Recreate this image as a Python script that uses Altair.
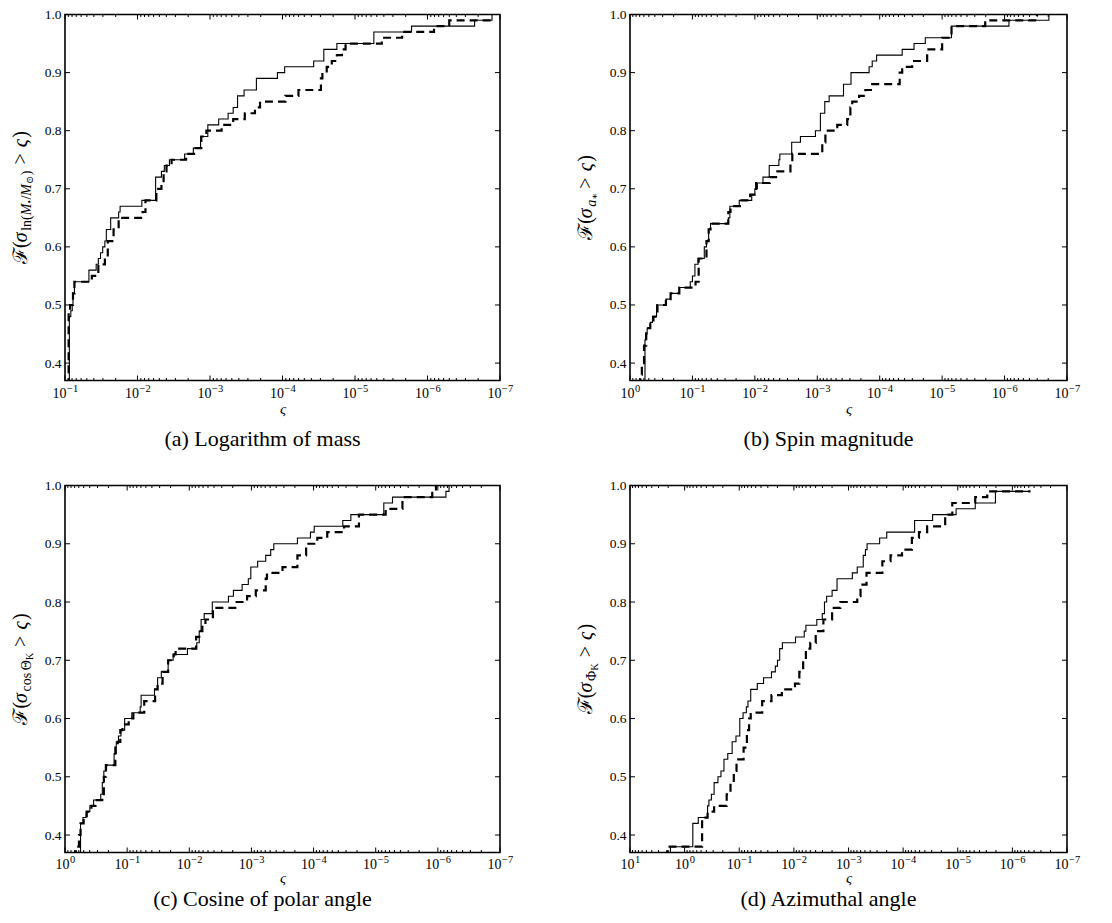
import altair as alt
import pandas as pd

SERIF = "'Liberation Serif', 'DejaVu Serif', serif"

# ---------------- data (log10 of varsigma, CDF level) ----------------
a_solid_lx = [-1.06, -1.06, -1.08, -1.10, -1.11, -1.13, -1.33, -1.43, -1.46, -1.49, -1.52,
              -1.55, -1.57, -1.63, -1.74, -1.76, -2.06, -2.25, -2.33, -2.37, -2.44,
              -2.65, -2.77, -2.87, -2.97, -3.12, -3.25, -3.32, -3.38, -3.47, -3.64,
              -3.93, -4.03, -4.43, -4.57, -4.75, -5.26, -5.78, -6.65, -6.89]
a_solid_F = [0.36, 0.48, 0.49, 0.50, 0.52, 0.54, 0.56, 0.57, 0.58, 0.59, 0.60,
             0.61, 0.63, 0.65, 0.66, 0.67, 0.68, 0.72, 0.73, 0.74, 0.75,
             0.76, 0.77, 0.79, 0.81, 0.82, 0.83, 0.84, 0.86, 0.87, 0.89,
             0.90, 0.91, 0.92, 0.94, 0.95, 0.97, 0.98, 0.99, 1.00]
a_dash_lx = [-1.05, -1.05, -1.07, -1.11, -1.13, -1.37, -1.46, -1.55, -1.59, -1.67,
             -1.74, -2.07, -2.11, -2.26, -2.33, -2.36, -2.40, -2.47, -2.67, -2.78,
             -2.88, -2.95, -3.16, -3.32, -3.48, -3.62, -3.69, -4.04, -4.22, -4.53,
             -4.55, -4.61, -4.68, -4.75, -4.82, -4.87, -5.37, -5.65, -6.09, -6.30, -6.89]
a_dash_F = [0.36, 0.49, 0.50, 0.52, 0.54, 0.55, 0.57, 0.58, 0.61, 0.63,
            0.65, 0.66, 0.68, 0.70, 0.71, 0.73, 0.74, 0.75, 0.76, 0.77,
            0.79, 0.80, 0.81, 0.82, 0.83, 0.84, 0.85, 0.86, 0.87, 0.89,
            0.90, 0.91, 0.92, 0.93, 0.94, 0.95, 0.96, 0.97, 0.98, 0.99, 0.99]

b_solid_lx = [-0.24, -0.24, -0.25, -0.275, -0.325, -0.36, -0.425, -0.575, -0.65, -0.79,
              -0.965, -1.00, -1.04, -1.09, -1.19, -1.225, -1.26, -1.29, -1.575, -1.60,
              -1.75, -1.95, -2.00, -2.04, -2.13, -2.23, -2.385, -2.40, -2.59, -2.73,
              -2.97, -3.05, -3.12, -3.19, -3.42, -3.54, -3.83, -3.88, -3.95, -4.36,
              -4.55, -4.73, -5.15, -6.07, -6.71]
b_solid_F = [0.36, 0.44, 0.45, 0.46, 0.47, 0.48, 0.50, 0.51, 0.52, 0.53,
             0.54, 0.55, 0.57, 0.58, 0.60, 0.61, 0.63, 0.64, 0.65, 0.67,
             0.68, 0.69, 0.70, 0.71, 0.72, 0.74, 0.75, 0.76, 0.78, 0.79,
             0.80, 0.83, 0.85, 0.86, 0.88, 0.90, 0.91, 0.92, 0.93, 0.94,
             0.95, 0.96, 0.98, 0.99, 1.00]
b_dash_lx = [-0.165, -0.165, -0.19, -0.225, -0.26, -0.325, -0.375, -0.44, -0.575, -0.65,
             -0.79, -1.05, -1.10, -1.225, -1.26, -1.29, -1.575, -1.61, -1.76, -1.925,
             -2.02, -2.24, -2.36, -2.57, -2.60, -3.08, -3.13, -3.32, -3.48, -3.53,
             -3.56, -3.67, -3.77, -3.88, -4.32, -4.36, -4.52, -4.76, -5.00, -5.15,
             -5.69, -6.52]
b_dash_F = [0.36, 0.38, 0.40, 0.43, 0.46, 0.47, 0.48, 0.50, 0.51, 0.52,
            0.53, 0.54, 0.58, 0.61, 0.63, 0.64, 0.66, 0.67, 0.68, 0.69,
            0.71, 0.72, 0.73, 0.74, 0.76, 0.78, 0.80, 0.81, 0.82, 0.84,
            0.85, 0.86, 0.87, 0.88, 0.90, 0.91, 0.92, 0.94, 0.96, 0.98,
            0.99, 1.00]

c_solid_lx = [-0.25, -0.25, -0.29, -0.34, -0.40, -0.46, -0.575, -0.60, -0.625, -0.65,
              -0.79, -0.825, -0.86, -0.90, -0.96, -1.075, -1.21, -1.225, -1.44, -1.49,
              -1.55, -1.66, -1.74, -1.97, -2.12, -2.16, -2.19, -2.24, -2.37, -2.63,
              -2.71, -2.85, -2.95, -2.99, -3.10, -3.23, -3.31, -3.36, -3.74, -3.95,
              -4.01, -4.47, -4.60, -5.13, -5.27, -6.13, -6.18]
c_solid_F = [0.36, 0.42, 0.43, 0.44, 0.45, 0.46, 0.47, 0.49, 0.51, 0.52,
             0.54, 0.56, 0.57, 0.58, 0.60, 0.61, 0.62, 0.64, 0.65, 0.67,
             0.68, 0.70, 0.71, 0.72, 0.73, 0.75, 0.77, 0.78, 0.80, 0.81,
             0.82, 0.83, 0.84, 0.86, 0.87, 0.88, 0.89, 0.90, 0.91, 0.92,
             0.93, 0.94, 0.95, 0.97, 0.98, 0.99, 1.00]
c_dash_lx = [-0.175, -0.175, -0.225, -0.25, -0.30, -0.35, -0.425, -0.49, -0.60, -0.625,
             -0.66, -0.81, -0.85, -0.89, -0.925, -1.025, -1.10, -1.275, -1.45, -1.49,
             -1.57, -1.66, -1.75, -1.78, -2.11, -2.16, -2.21, -2.26, -2.38, -2.74,
             -2.93, -3.07, -3.23, -3.25, -3.50, -3.74, -3.88, -4.06, -4.22, -4.49,
             -4.73, -5.16, -5.43, -5.91, -5.97]
c_dash_F = [0.36, 0.38, 0.40, 0.42, 0.43, 0.44, 0.45, 0.46, 0.47, 0.50,
            0.52, 0.55, 0.56, 0.58, 0.59, 0.60, 0.61, 0.63, 0.65, 0.66,
            0.68, 0.70, 0.71, 0.72, 0.74, 0.75, 0.76, 0.77, 0.79, 0.80,
            0.81, 0.82, 0.84, 0.85, 0.86, 0.88, 0.90, 0.91, 0.92, 0.93,
            0.95, 0.96, 0.98, 0.99, 1.00]

d_solid_lx = [0.26, 0.26, -0.15, -0.25, -0.42, -0.445, -0.49, -0.54, -0.61, -0.665,
              -0.72, -0.79, -0.87, -0.94, -1.01, -1.07, -1.13, -1.16, -1.21, -1.33,
              -1.445, -1.59, -1.66, -1.70, -1.74, -1.79, -2.03, -2.19, -2.22, -2.42,
              -2.52, -2.56, -2.60, -2.70, -2.79, -3.07, -3.16, -3.27, -3.31, -3.34,
              -3.57, -3.70, -4.21, -4.54, -4.97, -5.32, -5.69, -6.33]
d_solid_F = [0.36, 0.38, 0.42, 0.43, 0.45, 0.46, 0.47, 0.49, 0.50, 0.51,
             0.53, 0.54, 0.56, 0.57, 0.60, 0.61, 0.62, 0.63, 0.65, 0.66,
             0.67, 0.68, 0.69, 0.70, 0.72, 0.73, 0.74, 0.75, 0.76, 0.77,
             0.78, 0.80, 0.81, 0.82, 0.84, 0.85, 0.86, 0.88, 0.89, 0.90,
             0.91, 0.92, 0.94, 0.95, 0.96, 0.97, 0.99, 0.99]
d_dash_lx = [0.32, 0.32, -0.32, -0.42, -0.54, -0.77, -0.84, -0.90, -0.95, -1.08,
             -1.14, -1.18, -1.21, -1.42, -1.59, -1.78, -2.02, -2.10, -2.17, -2.22,
             -2.30, -2.40, -2.54, -2.70, -2.85, -3.16, -3.22, -3.33, -3.62, -3.77,
             -3.98, -4.16, -4.29, -4.44, -4.77, -4.90, -5.32, -5.54, -6.33]
d_dash_F = [0.36, 0.38, 0.43, 0.44, 0.45, 0.47, 0.49, 0.51, 0.53, 0.55,
            0.58, 0.60, 0.61, 0.63, 0.64, 0.65, 0.66, 0.68, 0.70, 0.72,
            0.73, 0.75, 0.77, 0.79, 0.80, 0.81, 0.83, 0.85, 0.87, 0.88,
            0.89, 0.91, 0.92, 0.93, 0.95, 0.97, 0.98, 0.99, 0.99]

captions = ["(a) Logarithm of mass", "(b) Spin magnitude",
            "(c) Cosine of polar angle", "(d) Azimuthal angle"]
x_exponents = [(-7, -1), (-7, 0), (-7, 0), (-7, 1)]
y_ticks = [0.4, 0.5, 0.6, 0.7, 0.8, 0.9, 1.0]
x_title = "ς"
x_base = "10"

# y-axis titles, as (text, size, italic, baseline shift, gap after)
MAIN, SUB, SUB2 = 20, 14, 10
_tail = [(">", MAIN, False, 0, 6), ("ς", MAIN, True, 0, 0.5), (")", MAIN, False, 0, 0)]
_head = [("ℱ(", MAIN, False, 0, 0), ("σ", MAIN, True, 0, 0.5)]
ytitles = [
    _head + [("ln(", SUB, False, 4, 0), ("M", SUB, True, 4, 0), ("•", SUB2, False, 6, 0.5),
             ("/", SUB, False, 4, 0), ("M", SUB, True, 4, 0), ("⊙", SUB2, False, 6, 0.5),
             (")", SUB, False, 4, 6)] + _tail,
    _head + [("a", SUB, True, 4, 0), ("∗", SUB2, False, 6, 6)] + _tail,
    _head + [("cos", SUB, False, 4, 2.5), ("Θ", SUB, False, 4, 0), ("K", SUB2, False, 6, 6)] + _tail,
    _head + [("Φ", SUB, False, 4, 0), ("K", SUB2, False, 6, 6)] + _tail,
]

REG = {"(": 0.333, ")": 0.333, ">": 0.564, "/": 0.278, "l": 0.278, "n": 0.5,
       "c": 0.444, "o": 0.5, "s": 0.389, "•": 0.35, "⊙": 0.84, "Θ": 0.722, "Φ": 0.76,
       "K": 0.722, "ℱ": 0.75, "∗": 0.5}
IT = {"σ": 0.55, "ς": 0.45, "M": 0.833, "a": 0.5}


def seg_width(text, size, italic):
    table = IT if italic else REG
    return sum(table.get(ch, 0.5) for ch in text) * size


def panel(slx, sF, dlx, dF, exps, W, H, segs, caption, lab_y, title_pad, cap_offset):
    emin, emax = exps
    xs = alt.Scale(type="log", domain=[10.0 ** emin, 10.0 ** emax], reverse=True, nice=False)
    ys = alt.Scale(domain=[0.37, 1.0], nice=False, zero=False)
    xaxis = alt.Axis(values=[10.0 ** e for e in range(emin, emax + 1)], labels=False,
                     ticks=False, tickSize=0, domain=False, grid=False,
                     title=x_title, titleFont=SERIF, titleFontSize=15, titleFontStyle="italic",
                     titleFontWeight="normal", titleColor="black", titlePadding=title_pad)
    yaxis = alt.Axis(values=y_ticks, format=".1f", ticks=False, tickSize=0, domain=False,
                     grid=False, labelFont=SERIF, labelFontSize=13.5, labelColor="black",
                     labelPadding=4, labelFlush=False, labelOverlap=False, title="")
    X = lambda f: alt.X(f, scale=xs, axis=xaxis)
    Y = lambda f: alt.Y(f, scale=ys, axis=yaxis)

    sdf = pd.DataFrame({"s": [10.0 ** v for v in slx], "F": sF, "i": list(range(len(sF)))})
    ddf = pd.DataFrame({"s": [10.0 ** v for v in dlx], "F": dF, "i": list(range(len(dF)))})
    solid = alt.Chart(sdf).mark_line(interpolate="step-after", color="black",
                                     strokeWidth=1.1, clip=True).encode(
        x=X("s:Q"), y=Y("F:Q"), order="i:Q")
    dashed = alt.Chart(ddf).mark_line(interpolate="step-after", color="black",
                                      strokeWidth=2.2, strokeDash=[8, 5], clip=True).encode(
        x=X("s:Q"), y=Y("F:Q"), order="i:Q")

    exps_all = list(range(emin, emax + 1))
    major = pd.DataFrame({"s": [10.0 ** e for e in exps_all]})
    minor = pd.DataFrame({"s": [k * 10.0 ** e for e in range(emin, emax) for k in range(2, 10)]})
    yt = pd.DataFrame({"F": y_ticks[:-1]})

    def xrule(df, y0, y1):
        return alt.Chart(df).mark_rule(color="black", strokeWidth=1).encode(
            x=X("s:Q"), y=alt.value(y0), y2=alt.value(y1))

    def yrule(x0, x1):
        return alt.Chart(yt).mark_rule(color="black", strokeWidth=1).encode(
            y=Y("F:Q"), x=alt.value(x0), x2=alt.value(x1))

    # x tick labels: base "10" with a raised exponent
    lab_layers = []
    for neg in (True, False):
        ee = [e for e in exps_all if (e < 0) == neg]
        if not ee:
            continue
        df = pd.DataFrame({"s": [10.0 ** e for e in ee], "b": [x_base] * len(ee),
                           "p": [str(e).replace("-", "\u2212") for e in ee]})
        shift = 1.4 if neg else 4.4
        lab_layers.append(alt.Chart(df).mark_text(
            align="right", baseline="middle", font=SERIF, fontSize=14, color="black",
            dx=shift).encode(x=X("s:Q"), y=alt.value(H + lab_y), text="b:N"))
        lab_layers.append(alt.Chart(df).mark_text(
            align="left", baseline="middle", font=SERIF, fontSize=10.5, color="black",
            dx=shift + 0.6).encode(x=X("s:Q"), y=alt.value(H + lab_y - 5), text="p:N"))

    total = sum(seg_width(t, s, it) + g for t, s, it, dy, g in segs)
    y0 = H / 2 + total / 2
    one = pd.DataFrame({"k": [0]})
    off = 0.0
    tl = []
    for t, s, it, dy, g in segs:
        tl.append(alt.Chart(one).mark_text(
            text=t, angle=270, align="left", baseline="alphabetic", font=SERIF,
            fontSize=s, fontStyle="italic" if it else "normal", color="black",
            dx=off, dy=dy).encode(x=alt.value(-38), y=alt.value(y0)))
        off += seg_width(t, s, it) + g

    return alt.layer(
        solid, dashed,
        xrule(major, H, H - 5), xrule(major, 0, 5),
        xrule(minor, H, H - 2.5), xrule(minor, 0, 2.5),
        yrule(0, 5), yrule(W, W - 5), *lab_layers, *tl
    ).properties(
        width=W, height=H,
        title=alt.TitleParams(caption, orient="bottom", anchor="middle", frame="group",
                              font=SERIF, fontSize=22, fontWeight="normal", color="black",
                              offset=cap_offset, dx=-20))


pa = panel(a_solid_lx, a_solid_F, a_dash_lx, a_dash_F, x_exponents[0], 435, 366,
           ytitles[0], captions[0], 13, 21, 12)
pb = panel(b_solid_lx, b_solid_F, b_dash_lx, b_dash_F, x_exponents[1], 437, 366,
           ytitles[1], captions[1], 13, 21, 12)
pc = panel(c_solid_lx, c_solid_F, c_dash_lx, c_dash_F, x_exponents[2], 435, 367,
           ytitles[2], captions[2], 12, 18, 3.5)
pd_ = panel(d_solid_lx, d_solid_F, d_dash_lx, d_dash_F, x_exponents[3], 437, 367,
            ytitles[3], captions[3], 12, 18, 3.5)

chart = alt.concat(pa, pb, pc, pd_, columns=2, spacing={"row": 105, "column": 130},
                   bounds="flush").properties(
    padding={"left": 2, "top": -1.5, "right": 5, "bottom": 0}
).configure_view(stroke="black", strokeWidth=1.6)

chart.save("out.html", embed_options={"renderer": "svg", "actions": False})
